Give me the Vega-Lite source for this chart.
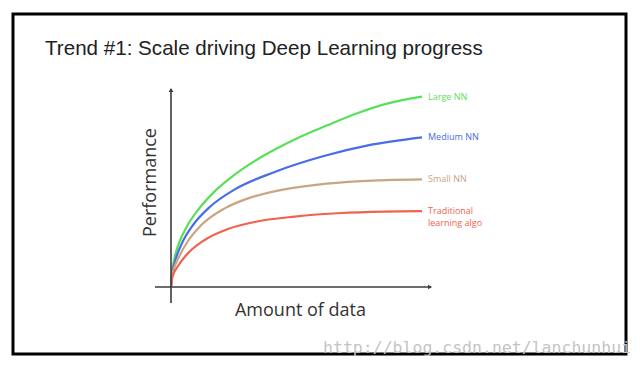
{
  "$schema": "https://vega.github.io/schema/vega-lite/v6.json",
  "width": 613,
  "height": 340,
  "autosize": {"type": "none"},
  "padding": {"left": 13, "top": 14, "right": 14, "bottom": 16},
  "background": "white",
  "config": {
    "view": {"stroke": "#000000", "strokeWidth": 3},
    "axis": {"labels": false, "ticks": false, "domain": false, "grid": false}
  },
  "title": {
    "text": "Trend #1: Scale driving Deep Learning progress",
    "anchor": "start",
    "frame": "group",
    "offset": -62,
    "dx": 32,
    "baseline": "alphabetic",
    "font": "Liberation Sans",
    "fontSize": 20.6,
    "fontWeight": "normal",
    "color": "#222222"
  },
  "datasets": {
    "curves": [
      {"series": "Large NN", "x": 0, "y": 0},
      {"series": "Large NN", "x": 0.3, "y": 6},
      {"series": "Large NN", "x": 1, "y": 12},
      {"series": "Large NN", "x": 2, "y": 17.5},
      {"series": "Large NN", "x": 3.5, "y": 23},
      {"series": "Large NN", "x": 6.1, "y": 29.8},
      {"series": "Large NN", "x": 10.76, "y": 38.5},
      {"series": "Large NN", "x": 17.41, "y": 47.8},
      {"series": "Large NN", "x": 26.02, "y": 56.8},
      {"series": "Large NN", "x": 36.65, "y": 65.5},
      {"series": "Large NN", "x": 49.28, "y": 73.8},
      {"series": "Large NN", "x": 62.55, "y": 81},
      {"series": "Large NN", "x": 74.5, "y": 87},
      {"series": "Large NN", "x": 86.45, "y": 91.8},
      {"series": "Large NN", "x": 100, "y": 95.2, "label": "Large NN"},
      {"series": "Medium NN", "x": 0, "y": 0},
      {"series": "Medium NN", "x": 0.3, "y": 5},
      {"series": "Medium NN", "x": 1, "y": 10},
      {"series": "Medium NN", "x": 2, "y": 14.5},
      {"series": "Medium NN", "x": 4.78, "y": 23},
      {"series": "Medium NN", "x": 8.76, "y": 31},
      {"series": "Medium NN", "x": 15.42, "y": 40},
      {"series": "Medium NN", "x": 25.38, "y": 48.8},
      {"series": "Medium NN", "x": 41.31, "y": 57.5},
      {"series": "Medium NN", "x": 61.24, "y": 65.6},
      {"series": "Medium NN", "x": 78.49, "y": 70.8},
      {"series": "Medium NN", "x": 100, "y": 74.8, "label": "Medium NN"},
      {"series": "Small NN", "x": 0, "y": 0},
      {"series": "Small NN", "x": 0.3, "y": 4.5},
      {"series": "Small NN", "x": 1, "y": 8.5},
      {"series": "Small NN", "x": 2, "y": 12},
      {"series": "Small NN", "x": 3.45, "y": 15.8},
      {"series": "Small NN", "x": 6.77, "y": 23},
      {"series": "Small NN", "x": 12.1, "y": 31},
      {"series": "Small NN", "x": 21.4, "y": 39.3},
      {"series": "Small NN", "x": 30.7, "y": 44.3},
      {"series": "Small NN", "x": 42.6, "y": 48.2},
      {"series": "Small NN", "x": 58.6, "y": 51.2},
      {"series": "Small NN", "x": 75.8, "y": 52.9},
      {"series": "Small NN", "x": 100, "y": 53.8, "label": "Small NN"},
      {"series": "Traditional learning algo", "x": 0, "y": 0},
      {"series": "Traditional learning algo", "x": 0.3, "y": 3.5},
      {"series": "Traditional learning algo", "x": 1, "y": 6.5},
      {"series": "Traditional learning algo", "x": 2.8, "y": 10.5},
      {"series": "Traditional learning algo", "x": 6.1, "y": 16},
      {"series": "Traditional learning algo", "x": 13.4, "y": 23.5},
      {"series": "Traditional learning algo", "x": 22.7, "y": 29},
      {"series": "Traditional learning algo", "x": 33.3, "y": 32.5},
      {"series": "Traditional learning algo", "x": 49.3, "y": 35.2},
      {"series": "Traditional learning algo", "x": 67.9, "y": 37},
      {"series": "Traditional learning algo", "x": 85.1, "y": 37.7},
      {"series": "Traditional learning algo", "x": 100, "y": 37.9, "label": "Traditional\nlearning algo"}
    ],
    "axes": [
      {"axis": "x", "x": -6.4, "x2": 103.6, "y": 0, "y2": 0},
      {"axis": "y", "x": 0, "x2": 0, "y": -8, "y2": 99}
    ],
    "arrows": [
      {"axis": "x", "x": 103.2, "y": 0, "shape": "triangle-right"},
      {"axis": "y", "x": 0, "y": 98.5, "shape": "triangle-up"}
    ],
    "watermark": [
      {"text": "http://blog.csdn.net/lanchunhui"}
    ]
  },
  "encoding": {
    "x": {"type": "quantitative",
          "scale": {"domain": [-62.95, 181.27], "nice": false, "zero": false},
          "axis": {"title": "Amount of data", "titleX": 287, "titleY": -39, "titleAlign": "center",
                   "titleBaseline": "alphabetic", "titleFont": "Open Sans", "titleFontSize": 18,
                   "titleFontWeight": "normal", "titleColor": "#333333"}},
    "y": {"type": "quantitative",
          "scale": {"domain": [-33.5, 136.5], "nice": false, "zero": false},
          "axis": {"title": "Performance", "titleX": 142, "titleY": 168, "titleAngle": -90,
                   "titleAlign": "center", "titleBaseline": "alphabetic", "titleFont": "Open Sans",
                   "titleFontSize": 18, "titleFontWeight": "normal", "titleColor": "#333333"}}
  },
  "layer": [
    {
      "data": {"name": "curves"},
      "mark": {"type": "line", "interpolate": "monotone", "strokeWidth": 2.2},
      "encoding": {
        "x": {"field": "x", "type": "quantitative", "title": "Amount of data"},
        "y": {"field": "y", "type": "quantitative", "title": "Performance"},
        "color": {"field": "series", "type": "nominal",
                  "scale": {"domain": ["Large NN", "Medium NN", "Small NN", "Traditional learning algo"],
                            "range": ["#58e058", "#4a6ce6", "#c9a582", "#f1624e"]},
                  "legend": null}
      }
    },
    {
      "data": {"name": "curves"},
      "transform": [{"filter": "datum.label"}],
      "mark": {"type": "text", "align": "left", "baseline": "middle", "dx": 6, "font": "Open Sans",
               "fontSize": 9, "lineBreak": "\n", "lineHeight": 12},
      "encoding": {
        "x": {"field": "x", "type": "quantitative", "title": "Amount of data"},
        "y": {"field": "y", "type": "quantitative", "title": "Performance"},
        "text": {"field": "label"},
        "color": {"field": "series", "type": "nominal", "legend": null}
      }
    },
    {
      "data": {"name": "axes"},
      "mark": {"type": "rule", "color": "#3c3c3c", "strokeWidth": 1.6},
      "encoding": {
        "x": {"field": "x", "type": "quantitative", "title": "Amount of data"},
        "x2": {"field": "x2"},
        "y": {"field": "y", "type": "quantitative", "title": "Performance"},
        "y2": {"field": "y2"}
      }
    },
    {
      "data": {"name": "arrows"},
      "mark": {"type": "point", "filled": true, "color": "#3c3c3c", "size": 22, "opacity": 1},
      "encoding": {
        "x": {"field": "x", "type": "quantitative", "title": "Amount of data"},
        "y": {"field": "y", "type": "quantitative", "title": "Performance"},
        "shape": {"field": "shape", "type": "nominal", "scale": null, "legend": null}
      }
    },
    {
      "data": {"name": "watermark"},
      "mark": {"type": "text", "align": "right", "baseline": "alphabetic", "dx": 5, "dy": -1,
               "font": "DejaVu Sans Mono", "fontSize": 16.5, "color": "#c4c4c4"},
      "encoding": {
        "x": {"value": "width"},
        "y": {"value": "height"},
        "text": {"field": "text"}
      }
    }
  ]
}
